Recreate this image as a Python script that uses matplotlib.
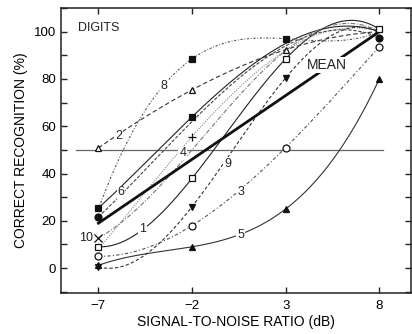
import numpy as np
import matplotlib
matplotlib.use("Agg")
import matplotlib.pyplot as plt
from matplotlib.ticker import MultipleLocator

plt.rcParams['font.family'] = ['Liberation Sans', 'DejaVu Sans']

snr = [-7, -2, 3, 8]
xticks = [-7, -2, 3, 8]
yticks = [0, 20, 40, 60, 80, 100]

# listener curves: values (%) at each SNR
s1 = [9, 38, 88.5, 101]
s2 = [50.8, 75.4, 92.4, 100]
s3 = [5, 18, 51, 93.6]
s4 = [8, 55.6, 92, 100]
s5 = [1.2, 9, 25, 80]
s6 = [25.4, 64, 95, 100]
s7 = [21.6, 62, 94, 97.5]
s8 = [25, 88.5, 97, 100]
s9 = [0.5, 26, 80.5, 100]
s10 = [12.7, 50, 92, 100]
mean_x = [-7, 8]
mean_y = [19, 100]

labels = ['1', '2', '3', '4', '5', '6', '7', '8', '9', '10']
series = [s1, s2, s3, s4, s5, s6, s7, s8, s9, s10]

styles = {
    '1': dict(ls='-', color='#222222', lw=0.8, marker='s', mfc='white', show=[0, 1, 2, 3]),
    '2': dict(ls=(0, (4, 2.5)), color='#333333', lw=0.8, marker='^', mfc='white', show=[0, 1, 2]),
    '3': dict(ls=(0, (3, 2, 1, 2)), color='#555555', lw=0.8, marker='o', mfc='white', show=[0, 1, 2, 3]),
    '4': dict(ls=(0, (1, 1.2)), color='#888888', lw=0.8, marker='+', mfc='#444444', show=[1]),
    '5': dict(ls='-', color='#333333', lw=0.8, marker='^', mfc='#111111', show=[0, 1, 2, 3]),
    '6': dict(ls='-', color='#222222', lw=0.8, marker='s', mfc='#111111', show=[0, 1]),
    '7': dict(ls=(0, (3, 1.5)), color='#444444', lw=0.8, marker='o', mfc='#111111', show=[0, 3]),
    '8': dict(ls=(0, (2, 1.5, 0.8, 1.5)), color='#555555', lw=0.8, marker='s', mfc='#111111', show=[1, 2]),
    '9': dict(ls=(0, (3, 2)), color='#333333', lw=0.8, marker='v', mfc='#111111', show=[0, 1, 2]),
    '10': dict(ls=(0, (4, 1.5, 1, 1.5)), color='#777777', lw=0.8, marker='x', mfc='#333333', show=[0]),
}

label_pos = {
    '1': (-4.65, 16.5), '2': (-5.9, 56), '3': (0.6, 32), '4': (-2.5, 48.5),
    '5': (0.6, 14), '6': (-5.8, 32), '8': (-3.5, 77), '9': (-0.1, 44),
}

fig = plt.figure(figsize=(4.12, 3.34), dpi=100)
ax = fig.add_axes([0.148, 0.123, 0.85, 0.853])

xs = np.linspace(-7, 8, 200)
for lab, vals in zip(labels, series):
    st = styles[lab]
    coef = np.polyfit(snr, vals, 3)
    ax.plot(xs, np.polyval(coef, xs), ls=st['ls'], color=st['color'], lw=st['lw'], zorder=2)
    px = [snr[i] for i in st['show']]
    py = [vals[i] for i in st['show']]
    ax.plot(px, py, ls='none', marker=st['marker'], ms=5 if st['marker'] not in 'x+' else 6,
            mfc=st['mfc'], mec='#111111', mew=0.9, zorder=4)

ax.plot(mean_x, mean_y, color='#111111', lw=2.0, zorder=3)
ax.axhline(50, xmin=(-8.2 + 9) / 18.7, xmax=(8.2 + 9) / 18.7, color='#666666', lw=0.9, zorder=1)

for lab, (lx, ly) in label_pos.items():
    ax.text(lx, ly, lab, fontsize=9, ha='center', va='center', color='#222222', zorder=5,
            bbox=dict(facecolor='white', edgecolor='none', pad=0.6))
ax.text(-7.3, 12.7, '10', fontsize=9, ha='right', va='center', color='#222222', zorder=5)
ax.text(5.22, 86, 'MEAN', fontsize=10, ha='center', va='center', color='#222222', zorder=5,
        bbox=dict(facecolor='white', edgecolor='none', pad=0.6))
ax.text(-8.1, 101.7, 'DIGITS', fontsize=9, ha='left', va='center', color='#222222')

ax.set_xlim(-9, 9.7)
ax.set_ylim(-10.5, 110)
ax.set_xticks(xticks)
ax.set_yticks(yticks)
ax.yaxis.set_minor_locator(MultipleLocator(10))
ax.tick_params(axis='both', which='both', direction='in', length=4, width=1, color='#222222',
               labelsize=9.5, top=True, right=True)
ax.tick_params(axis='x', pad=5)
for sp in ax.spines.values():
    sp.set_linewidth(1.1)
    sp.set_color('#222222')
ax.set_xlabel('SIGNAL-TO-NOISE RATIO (dB)', fontsize=10, labelpad=2)
ax.set_ylabel('CORRECT RECOGNITION (%)', fontsize=10, labelpad=4)

fig.savefig('out.png', dpi=100)
